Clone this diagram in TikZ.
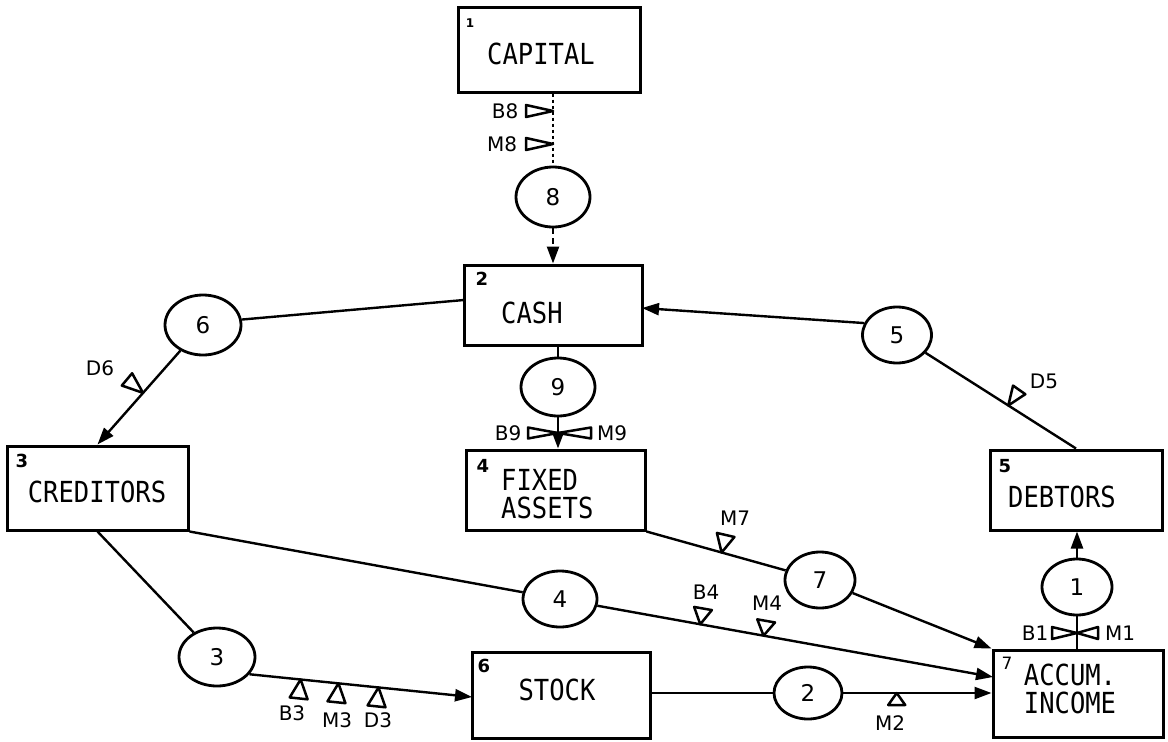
\documentclass[tikz,border=0pt]{standalone}
\usepackage{fontspec}
\setmainfont{DejaVu Sans}
\newfontfamily\boxfont[FakeStretch=0.88]{DejaVu Sans Mono}
\usetikzlibrary{shapes.geometric,arrows.meta,calc}
\tikzset{
 box/.style={draw, line width=3pt, rectangle, inner sep=0pt},
 boxtext/.style={inner sep=0pt, font=\boxfont\fontsize{29}{28}\selectfont},
 flow/.style={ellipse, draw, line width=2.8pt, inner sep=0pt, font=\fontsize{23}{23}\selectfont},
 conn/.style={line width=2.4pt},
 arr/.style={conn, -{Triangle[length=17pt,width=12pt]}},
 tri/.style={draw, fill=white, line width=2.5pt, line join=round},
 lab/.style={inner sep=0pt, font=\fontsize{20}{20}\selectfont},
 corner/.style={inner sep=0pt, font=\bfseries\fontsize{18}{18}\selectfont},
}
\newcommand\flowtri[4]{\draw[tri,shift={(#1)},rotate=#2] (0,0) -- (-#3,#4/2) -- (-#3,-#4/2) -- cycle;}
\begin{document}
\begin{tikzpicture}[x=1pt,y=-1pt]
\fill[white] (0,0) rectangle (1168,742);
\useasboundingbox (0,0) rectangle (1168,742);

% accounts (boxes)
\node[box, minimum width=182pt, minimum height=85pt] (cap) at (549,49.5) {};
\node[box, minimum width=178pt, minimum height=80pt] (cash) at (553,305) {};
\node[box, minimum width=179pt, minimum height=80pt] (fixed) at (555.5,490) {};
\node[box, minimum width=181pt, minimum height=84pt] (cred) at (97.5,488) {};
\node[box, minimum width=172pt, minimum height=80pt] (debt) at (1076,490) {};
\node[box, minimum width=170pt, minimum height=87pt] (accum) at (1078,693.5) {};
\node[box, minimum width=178pt, minimum height=86pt] (stock) at (561,695) {};

\node[boxtext] (capT) at (541,54) {CAPITAL};
\node[boxtext, anchor=west] (cashT) at (501,313) {CASH};
\node[boxtext, anchor=west, align=left] (fixT) at (501,494) {FIXED\\ASSETS};
\node[boxtext] (credT) at (97,492) {CREDITORS};
\node[boxtext] (debtT) at (1062,497) {DEBTORS};
\node[boxtext, align=center] (accT) at (1070,689) {ACCUM.\\INCOME};
\node[boxtext] (stockT) at (557,690) {STOCK};

\node[corner, font=\bfseries\fontsize{12}{12}\selectfont] (n1) at (470,23) {1};
\node[corner] (n2) at (482,279) {2};
\node[corner] (n4) at (483,466) {4};
\node[corner] (n3) at (22,461) {3};
\node[corner] (n5) at (1005,466) {5};
\node[corner, font=\fontsize{17}{17}\selectfont] (n7) at (1007,663) {7};
\node[corner] (n6) at (484,666) {6};

% flows (ellipses)
\node[flow, minimum width=74pt, minimum height=60pt] (c8) at (553,197) {8};
\node[flow, minimum width=74pt, minimum height=58pt] (c9) at (558,387) {9};
\node[flow, minimum width=76pt, minimum height=60pt] (c6) at (203,325) {6};
\node[flow, minimum width=69pt, minimum height=56pt] (c5) at (897,335) {5};
\node[flow, minimum width=70pt, minimum height=56pt] (c1) at (1077,587) {1};
\node[flow, minimum width=70pt, minimum height=56pt] (c7) at (820,580) {7};
\node[flow, minimum width=74pt, minimum height=56pt] (c4) at (560,599) {4};
\node[flow, minimum width=76pt, minimum height=58pt] (c3) at (217,657) {3};
\node[flow, minimum width=68pt, minimum height=52pt] (c2) at (808,693) {2};

% connectors
\draw[conn, line width=1.6pt, dash pattern=on 3pt off 3pt] (c8.north |- cap.south) -- (c8.north);
\draw[arr, dash pattern=on 6pt off 4pt] (c8.south) -- (c8.south |- cash.north);
\draw[conn] (c9.north |- cash.south) -- (c9.north);
\draw[arr] (c9.south) -- (c9.south |- fixed.north);
\coordinate (cashW) at (464,300);
\draw[conn] (c6.8) -- (cashW);
\draw[arr] (c6) -- node[pos=0.45, coordinate] (d6t) {} (cred.north);
\coordinate (cashE) at (642,308);
\draw[arr] (c5.160) -- (cashE);
\draw[conn] (c5.-32) -- node[pos=0.55, coordinate] (d5t) {} (debt.north);
\draw[arr] (c1.north) -- (c1.north |- debt.south);
\draw[conn] (c1.south |- accum.north) -- (c1.south);
\draw[conn] (fixed.south east) -- node[pos=0.54, coordinate] (m7t) {} (c7);
\draw[arr] (c7) -- (accum.north west);
\draw[conn] (cred.south east) -- (c4);
\coordinate (acc4) at (993,677);
\draw[arr] (c4) -- node[pos=0.26, coordinate] (b4t) {} node[pos=0.42, coordinate] (m4t) {} (acc4);
\draw[conn] (cred.south) -- (c3);
\coordinate (stockIn) at (472,697);
\draw[arr] (c3.-28) -- node[pos=0.23, coordinate] (b3t) {} node[pos=0.40, coordinate] (m3t) {} node[pos=0.58, coordinate] (d3t) {} (stockIn);
\draw[conn] (stock.east |- c2) -- (c2);
\draw[arr] (c2) -- node[pos=0.36, coordinate] (m2t) {} (c2 -| accum.west);

% valve triangles
\coordinate (b8t) at (553,111);
\coordinate (m8t) at (553,144);
\coordinate (v9) at (558,433);
\coordinate (v1) at (1077,633);
\flowtri{b8t}{0}{27}{12}
\flowtri{m8t}{0}{27}{12}
\flowtri{v9}{0}{30}{11}
\flowtri{v9}{180}{33}{11}
\flowtri{v1}{0}{25}{12}
\flowtri{v1}{180}{21}{12}
\flowtri{d6t}{-40}{21}{16}
\flowtri{d5t}{-125}{19}{15}
\flowtri{m7t}{-103}{18}{18}
\flowtri{b4t}{-100}{16}{18}
\flowtri{m4t}{-100}{15}{18}
\flowtri{m2t}{90}{12}{17}
\flowtri{b3t}{84}{19}{18}
\flowtri{m3t}{84}{19}{18}
\flowtri{d3t}{84}{19}{18}

% valve labels
\node[lab] (lb8) at (505,111) {B8};
\node[lab] (lm8) at (502,144) {M8};
\node[lab] (lb9) at (508,433) {B9};
\node[lab] (lm9) at (612,433) {M9};
\node[lab] (lb1) at (1035,633) {B1};
\node[lab] (lm1) at (1120,633) {M1};
\node[lab] (ld6) at (100,368) {D6};
\node[lab] (ld5) at (1044,381) {D5};
\node[lab] (lm7) at (735,518) {M7};
\node[lab] (lb4) at (706,592) {B4};
\node[lab] (lm4) at (767,603) {M4};
\node[lab] (lm2) at (890,723) {M2};
\node[lab] (lb3) at (292,713) {B3};
\node[lab] (lm3) at (337,720) {M3};
\node[lab] (ld3) at (378,720) {D3};
\end{tikzpicture}
\end{document}
